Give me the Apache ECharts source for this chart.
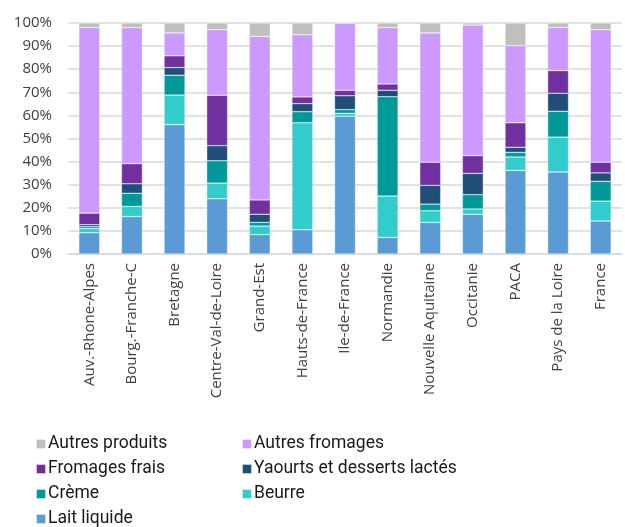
<!DOCTYPE html>
<html>
<head>
<meta charset="utf-8">
<script src="https://cdn.jsdelivr.net/npm/echarts@6/dist/echarts.min.js"></script>
<style>
  html, body { margin: 0; padding: 0; background: #fff; }
  #chart { width: 625px; height: 527px; }
</style>
</head>
<body>
<div id="chart"></div>
<script>
const categories = ['Auv.-Rhone-Alpes', 'Bourg.-Franche-C', 'Bretagne', 'Centre-Val-de-Loire', 'Grand-Est',
  'Hauts-de-France', 'Ile-de-France', 'Normandie', 'Nouvelle Aquitaine', 'Occitanie', 'PACA',
  'Pays de la Loire', 'France']

const laitLiquide = [9.2, 16.2, 56.0, 23.9, 8.4, 10.5, 59.6, 7.2, 13.7, 17.2, 36.2, 35.5, 14.3]
const beurre = [1.8, 4.4, 12.8, 6.8, 3.7, 46.3, 1.3, 17.9, 5.0, 2.3, 5.8, 15.1, 8.6]
const creme = [0.8, 5.7, 8.6, 9.7, 1.6, 4.8, 1.6, 43.0, 2.9, 6.2, 2.0, 11.2, 8.6]
const yaourts = [0.9, 4.1, 3.3, 6.5, 3.5, 3.5, 6.0, 2.8, 8.1, 9.2, 2.2, 7.8, 3.6]
const fromagesFrais = [5.0, 8.7, 5.1, 21.8, 6.2, 2.9, 2.4, 2.7, 10.0, 7.7, 10.6, 9.8, 4.6]
const autresFromages = [80.3, 58.9, 9.9, 28.4, 70.8, 26.9, 29.1, 24.4, 56.0, 56.5, 33.4, 18.6, 57.4]
const autresProduits = [2.0, 2.0, 4.3, 2.9, 5.8, 5.1, 0.0, 2.0, 4.3, 0.9, 9.8, 2.0, 2.9]

const yTicks = [0, 10, 20, 30, 40, 50, 60, 70, 80, 90, 100]

const chart = echarts.init(document.getElementById('chart'))

function bar(name, data, color) {
  return {
    name,
    type: 'bar',
    stack: 'total',
    barWidth: '49%',
    data,
    itemStyle: { color, borderColor: 'rgba(255,255,255,0.7)', borderWidth: 0.5 },
    animation: false
  }
}

const legendText = { fontFamily: 'Roboto', fontSize: 17.5, color: '#1a1a1a', padding: [0, 0, 0, -3] }

chart.setOption({
  animation: false,
  grid: { left: 68, right: 3, top: 23, bottom: 273 },
  legend: [
    {
      orient: 'vertical', left: 30, top: 430, height: 110, itemWidth: 10, itemHeight: 10, itemGap: 7,
      icon: 'rect', textStyle: legendText,
      data: ['Autres produits', 'Fromages frais', 'Crème', 'Lait liquide']
    },
    {
      orient: 'vertical', left: 236, top: 430, height: 110, itemWidth: 10, itemHeight: 10, itemGap: 7,
      icon: 'rect', textStyle: legendText,
      data: ['Autres fromages', 'Yaourts et desserts lactés', 'Beurre']
    }
  ],
  xAxis: {
    type: 'category',
    data: categories,
    axisLine: { lineStyle: { color: '#d9d9d9', width: 1.5 } },
    axisTick: { show: false },
    axisLabel: {
      rotate: 90, interval: 0, margin: 9,
      fontFamily: 'Open Sans', fontSize: 15, color: '#404040'
    }
  },
  yAxis: {
    type: 'value',
    min: yTicks[0],
    max: yTicks[yTicks.length - 1],
    interval: 10,
    axisLine: { show: false },
    axisTick: { show: false },
    splitLine: { lineStyle: { color: '#d9d9d9', width: 1.5 } },
    axisLabel: {
      formatter: '{value}%', margin: 16,
      fontFamily: 'Open Sans', fontSize: 15, color: '#404040'
    }
  },
  series: [
    bar('Lait liquide', laitLiquide, '#5b9bd5'),
    bar('Beurre', beurre, '#33cccc'),
    bar('Crème', creme, '#009999'),
    bar('Yaourts et desserts lactés', yaourts, '#1f4e79'),
    bar('Fromages frais', fromagesFrais, '#7030a0'),
    bar('Autres fromages', autresFromages, '#cc99ff'),
    bar('Autres produits', autresProduits, '#bfbfbf')
  ]
})
</script>
</body>
</html>
